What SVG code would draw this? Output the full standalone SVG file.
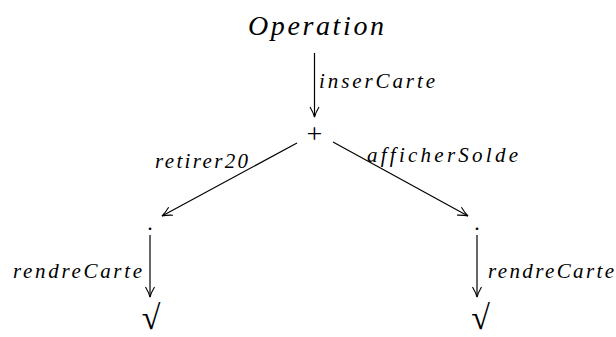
<svg xmlns="http://www.w3.org/2000/svg" width="616" height="337" viewBox="0 0 616 337">
<style>
.lbl{font-family:"Liberation Serif","DejaVu Serif",serif;font-style:italic;font-size:21px;fill:#000}
.big{font-family:"Liberation Serif","DejaVu Serif",serif;font-style:italic;font-size:28px;fill:#000}
.sym{font-family:"Liberation Serif","DejaVu Serif",serif;fill:#000;text-anchor:middle}
.edge{stroke:#000;stroke-width:1.2;fill:none;marker-end:url(#arr)}
</style>
<defs>
<marker id="arr" markerUnits="userSpaceOnUse" markerWidth="14" markerHeight="12" viewBox="-12 -6 14 12" refX="0" refY="0" orient="auto">
<path d="M-10,-4.5 Q-4,-1 0,0 Q-4,1 -10,4.5" stroke="#000" stroke-width="1.1" fill="none"/>
</marker>
</defs>
<rect width="616" height="337" fill="#fff"/>
<g id="connectors">
<line class="edge" x1="314.5" y1="53" x2="314.5" y2="117"/>
<line class="edge" x1="297" y1="143" x2="162" y2="216"/>
<line class="edge" x1="333" y1="142" x2="468" y2="216"/>
<line class="edge" x1="150" y1="235" x2="150" y2="297"/>
<line class="edge" x1="477" y1="235" x2="477" y2="297"/>
<text class="lbl" x="319" y="88" textLength="116" lengthAdjust="spacing">inserCarte</text>
<text class="lbl" x="155" y="168" textLength="93" lengthAdjust="spacing">retirer20</text>
<text class="lbl" x="367" y="162" textLength="151" lengthAdjust="spacing">afficherSolde</text>
<text class="lbl" x="13" y="278" textLength="129" lengthAdjust="spacing">rendreCarte</text>
<text class="lbl" x="488" y="278" textLength="126" lengthAdjust="spacing">rendreCarte</text>
</g>
<g id="node-operation">
<text class="big" x="248" y="35" textLength="136" lengthAdjust="spacing">Operation</text>
</g>
<g id="node-plus">
<text class="sym" x="314.5" y="143" font-size="28">+</text>
</g>
<g id="node-dot-left">
<text class="sym" x="150" y="230" font-size="22">.</text>
</g>
<g id="node-dot-right">
<text class="sym" x="477" y="230" font-size="22">.</text>
</g>
<g id="node-check-left">
<text class="sym" x="151" y="329" font-size="34">√</text>
</g>
<g id="node-check-right">
<text class="sym" x="480.5" y="329" font-size="34">√</text>
</g>
</svg>
